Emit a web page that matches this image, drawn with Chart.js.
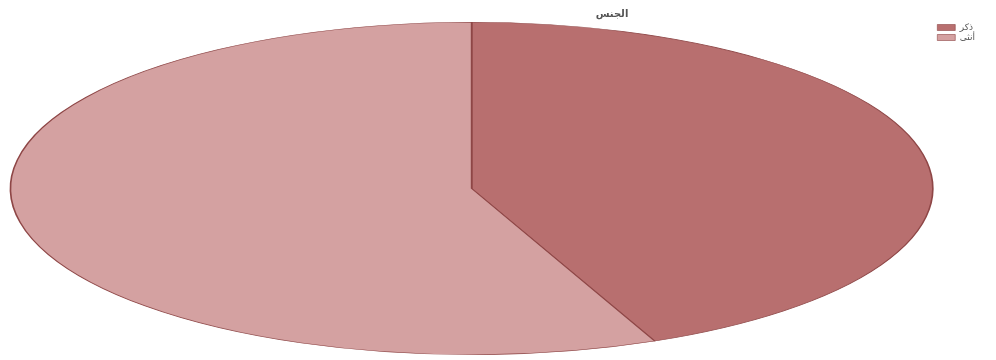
<!DOCTYPE html>
<html>
<head>
<meta charset="utf-8">
<script src="https://cdn.jsdelivr.net/npm/chart.js@4"></script>
<style>
  html, body { margin: 0; padding: 0; background: #fff; }
  canvas { display: block; }
</style>
</head>
<body>
<canvas id="myChart" width="996" height="360"></canvas>
<script>
// data
const categories = ['ذكر', 'أنثى'];
const shares = [43.5, 56.5];
const sliceColors = ['#b86f6f', '#d4a1a1'];
const chartTitle = 'الجنس';

// the pie in the original is squashed into a wide ellipse
const stretchX = 462 / 166.5;

const ellipsePlugin = {
  id: 'ellipse',
  beforeDatasetsDraw(chart) {
    const arc = chart.getDatasetMeta(0).data[0];
    const ctx = chart.ctx;
    ctx.save();
    ctx.translate(arc.x, arc.y);
    ctx.scale(stretchX, 1);
    ctx.translate(-arc.x, -arc.y);
  },
  afterDatasetsDraw(chart) {
    chart.ctx.restore();
  }
};

// title sits off-centre in the original, so draw it by hand
const titlePlugin = {
  id: 'offTitle',
  afterDraw(chart) {
    const ctx = chart.ctx;
    ctx.save();
    ctx.font = 'bold 10px "DejaVu Sans", sans-serif';
    ctx.fillStyle = '#555';
    ctx.textAlign = 'center';
    ctx.textBaseline = 'middle';
    ctx.fillText(chartTitle, 612, 14);
    ctx.restore();
  }
};

const ctx = document.getElementById('myChart').getContext('2d');
const myChart = new Chart(ctx, {
  type: 'pie',
  data: {
    labels: categories,
    datasets: [{
      data: shares,
      backgroundColor: sliceColors,
      borderColor: '#8e4646',
      borderWidth: 0.6
    }]
  },
  options: {
    responsive: false,
    animation: false,
    layout: {
      padding: { top: 22, bottom: 5, left: 7, right: 11 }
    },
    plugins: {
      title: { display: false },
      tooltip: { enabled: false },
      legend: {
        position: 'right',
        align: 'start',
        labels: {
          boxWidth: 18,
          boxHeight: 6,
          padding: 1,
          color: '#555',
          font: { size: 9, family: '"DejaVu Sans", sans-serif' }
        }
      }
    }
  },
  plugins: [ellipsePlugin, titlePlugin]
});
</script>
</body>
</html>
